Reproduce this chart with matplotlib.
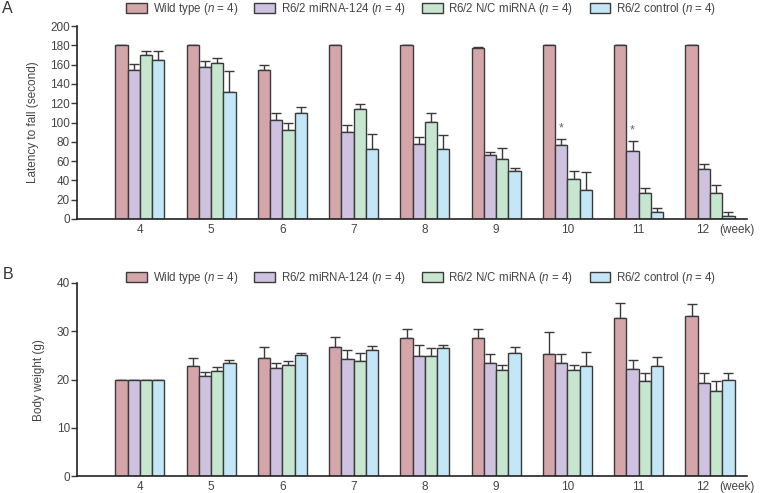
import numpy as np
import matplotlib.pyplot as plt
from matplotlib.transforms import ScaledTranslation

plt.rcParams['font.family'] = ['Liberation Sans', 'DejaVu Sans']
plt.rcParams['mathtext.fontset'] = 'custom'
plt.rcParams['mathtext.it'] = 'Liberation Sans:italic'
plt.rcParams['mathtext.rm'] = 'Liberation Sans'

weeks = [4, 5, 6, 7, 8, 9, 10, 11, 12]
groups = [r"Wild type ($n$ = 4)", r"R6/2 miRNA-124 ($n$ = 4)",
          r"R6/2 N/C miRNA ($n$ = 4)", r"R6/2 control ($n$ = 4)"]
colors = ["#d4a6aa", "#cfc2e0", "#c6e6cf", "#c3e7f7"]

# Panel A: latency to fall (mean, upper error)
lat_wt = [180, 180, 154, 180, 180, 177.5, 180, 180, 180]
lat_wt_err = [0, 0, 6, 0, 0, 1, 0, 0, 0]
lat_124 = [155, 158, 103, 90.5, 78, 66, 77, 70, 52]
lat_124_err = [5.5, 5.5, 7, 7, 6.5, 3.5, 6, 11, 4.5]
lat_nc = [170, 162, 92, 114, 101, 62, 41, 26.5, 27]
lat_nc_err = [4.5, 4.5, 7, 5, 8.5, 11.5, 9, 6, 8.5]
lat_ctrl = [165, 132, 110, 73, 73, 50, 30, 7, 3]
lat_ctrl_err = [9, 21, 6, 15, 14, 2.5, 19, 4, 4]
stars_at = [10, 11]

# Panel B: body weight
bw_wt = [20, 22.9, 24.5, 26.8, 28.6, 28.6, 25.2, 32.8, 33.2]
bw_wt_err = [0, 1.5, 2.2, 2.0, 1.9, 1.9, 4.6, 3.1, 2.5]
bw_124 = [20, 20.7, 22.3, 24.2, 24.8, 23.4, 23.4, 22.2, 19.2]
bw_124_err = [0, 0.9, 1.2, 2.0, 2.4, 1.8, 1.8, 1.9, 2.2]
bw_nc = [20, 21.8, 23.1, 23.8, 24.8, 22.0, 21.9, 19.8, 17.7]
bw_nc_err = [0, 0.9, 0.8, 1.7, 1.7, 1.0, 1.2, 1.6, 2.0]
bw_ctrl = [20, 23.4, 25.0, 26.2, 26.5, 25.6, 22.9, 22.9, 20.0]
bw_ctrl_err = [0, 0.7, 0.6, 0.7, 0.7, 1.2, 2.9, 1.7, 1.4]

BAR_W = 0.172
EDGE = "#3a3a3a"
TXT = "#444444"


def draw_panel(ax, series, errs, ylim, ystep, ylabel):
    x = np.arange(len(weeks))
    handles = []
    for i, (vals, err) in enumerate(zip(series, errs)):
        pos = x + (i - 1.5) * BAR_W
        lower = np.zeros(len(err))
        b = ax.bar(pos, vals, BAR_W, color=colors[i], edgecolor=EDGE,
                   linewidth=1.0, label=groups[i], zorder=2)
        ax.errorbar(pos, vals, yerr=[lower, err], fmt="none", ecolor=EDGE,
                    elinewidth=1.0, capsize=3.5, capthick=1.0, zorder=1)
        handles.append(b)
    ax.set_xlim(-0.884, len(weeks) - 1 + 0.52)
    ax.set_ylim(*ylim)
    ax.set_yticks(np.arange(ylim[0], ylim[1] + 1, ystep))
    ax.set_xticks(x)
    ax.set_xticklabels([str(w) for w in weeks])
    ax.tick_params(axis="x", length=0, pad=3.5, labelsize=8.5, labelcolor=TXT)
    ax.tick_params(axis="y", length=4, width=1.0, labelsize=8.5,
                   labelcolor=TXT, color=EDGE, pad=1)
    # last week label sits a little left to make room for the unit
    last = ax.get_xticklabels()[-1]
    last.set_transform(last.get_transform() + ScaledTranslation(-0.07, 0, fig.dpi_scale_trans))
    for s in ["top", "right"]:
        ax.spines[s].set_visible(False)
    for s in ["left", "bottom"]:
        ax.spines[s].set_color("#222222")
        ax.spines[s].set_linewidth(1.2)
    ax.set_ylabel(ylabel, fontsize=8.5, color=TXT, labelpad=8)
    ax.text(len(weeks) - 1 + 0.13, -0.025, "(week)", transform=ax.get_xaxis_transform(),
            fontsize=8.5, color=TXT, ha="left", va="top")
    return handles


fig = plt.figure(figsize=(7.6, 4.93), dpi=100)
axA = fig.add_axes([0.101, 0.556, 0.882, 0.391])
axB = fig.add_axes([0.101, 0.034, 0.882, 0.392])

hA = draw_panel(axA, [lat_wt, lat_124, lat_nc, lat_ctrl],
                [lat_wt_err, lat_124_err, lat_nc_err, lat_ctrl_err],
                (0, 200), 20, "Latency to fall (second)")
for w in stars_at:
    i = weeks.index(w)
    axA.text(i - 0.5 * BAR_W, lat_124[i] + lat_124_err[i] + 5, "*",
             ha="center", va="bottom", fontsize=9, color="#666666")

hB = draw_panel(axB, [bw_wt, bw_124, bw_nc, bw_ctrl],
                [bw_wt_err, bw_124_err, bw_nc_err, bw_ctrl_err],
                (0, 40), 10, "Body weight (g)")

for handles, y in [(hA, 0.998), (hB, 0.452)]:
    fig.legend(handles=handles, labels=groups, ncol=4,
               loc="upper left", bbox_to_anchor=(0.166, y), frameon=False,
               fontsize=8.3, handlelength=1.8, handleheight=1.0,
               handletextpad=0.5, columnspacing=1.4, labelcolor=TXT,
               borderaxespad=0, borderpad=0)

fig.text(0.003, 0.998, "A", fontsize=11.5, va="top", ha="left", color="#333333")
fig.text(0.003, 0.458, "B", fontsize=11.5, va="top", ha="left", color="#333333")

fig.savefig("out.png", dpi=100)
